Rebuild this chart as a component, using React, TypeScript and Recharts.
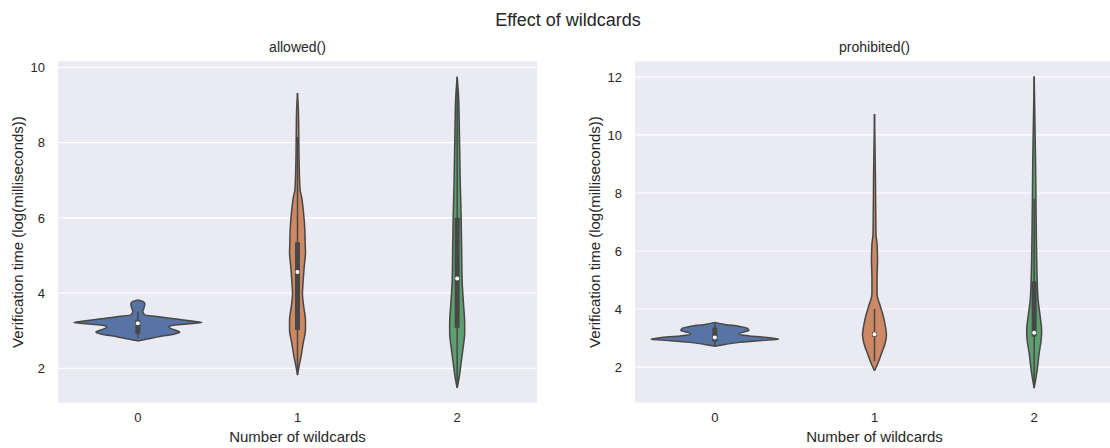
import {
  ComposedChart,
  Area,
  XAxis,
  YAxis,
  CartesianGrid,
  ReferenceLine,
  ReferenceDot,
} from "recharts";

const CATEGORIES = ["0", "1", "2"];
const COLORS = ["#5874a4", "#cc8963", "#5f9e6e"];
const EDGE = "#474747";
const TEXT = "#262626";

// violin outlines: y values and half-widths (in category units)
const ALLOWED_0_Y = [2.73, 2.79, 2.85, 2.91, 2.96, 3.02, 3.1, 3.14, 3.18, 3.22, 3.25, 3.31, 3.38, 3.42, 3.51, 3.6, 3.72, 3.78, 3.82];
const ALLOWED_0_W = [0, 0.069, 0.138, 0.225, 0.263, 0.231, 0.194, 0.213, 0.306, 0.4, 0.35, 0.244, 0.119, 0.044, 0.031, 0.038, 0.044, 0.031, 0];
const ALLOWED_1_Y = [1.82, 2.04, 2.31, 2.68, 3.02, 3.29, 3.64, 4.0, 4.35, 4.7, 5.07, 5.34, 5.68, 6.13, 6.57, 6.75, 7.5, 8.16, 8.8, 9.32];
const ALLOWED_1_W = [0, 0.009, 0.022, 0.036, 0.05, 0.05, 0.039, 0.031, 0.036, 0.042, 0.05, 0.048, 0.046, 0.038, 0.025, 0.016, 0.01, 0.008, 0.006, 0];
const ALLOWED_2_Y = [1.48, 1.77, 2.15, 2.57, 2.94, 3.2, 3.64, 4.35, 5.23, 6.0, 7.0, 8.53, 9.2, 9.75];
const ALLOWED_2_W = [0, 0.013, 0.025, 0.038, 0.047, 0.047, 0.041, 0.031, 0.028, 0.025, 0.019, 0.013, 0.009, 0];

const PROHIBITED_0_Y = [2.72, 2.78, 2.85, 2.91, 2.96, 3.01, 3.07, 3.13, 3.2, 3.26, 3.33, 3.4, 3.47, 3.54];
const PROHIBITED_0_W = [0, 0.063, 0.156, 0.281, 0.4, 0.344, 0.219, 0.15, 0.175, 0.213, 0.206, 0.156, 0.063, 0];
const PROHIBITED_1_Y = [1.87, 2.18, 2.47, 2.81, 3.1, 3.38, 3.73, 4.07, 4.53, 5.1, 5.67, 6.24, 6.59, 8.5, 10.72];
const PROHIBITED_1_W = [0, 0.025, 0.044, 0.066, 0.075, 0.069, 0.056, 0.038, 0.016, 0.016, 0.019, 0.016, 0.009, 0.006, 0];
const PROHIBITED_2_Y = [1.27, 1.9, 2.47, 2.93, 3.27, 3.73, 4.3, 4.98, 5.67, 6.81, 9.0, 12.02];
const PROHIBITED_2_W = [0, 0.019, 0.031, 0.044, 0.047, 0.038, 0.025, 0.019, 0.016, 0.013, 0.009, 0];

// inner box: whiskers, quartiles, medians
const ALLOWED_LO = [2.8, 1.95, 1.55];
const ALLOWED_Q1 = [2.92, 3.02, 3.08];
const ALLOWED_MED = [3.2, 4.56, 4.39];
const ALLOWED_Q3 = [3.29, 5.35, 6.0];
const ALLOWED_HI = [3.51, 8.15, 9.65];

const PROHIBITED_LO = [2.75, 2.2, 1.3];
const PROHIBITED_Q1 = [2.88, 3.05, 3.05];
const PROHIBITED_MED = [3.02, 3.13, 3.18];
const PROHIBITED_Q3 = [3.36, 3.2, 4.95];
const PROHIBITED_HI = [3.5, 4.0, 7.8];

const ALLOWED_TICKS = [2, 4, 6, 8, 10];
const PROHIBITED_TICKS = [2, 4, 6, 8, 10, 12];

type Violin = { y: number[]; w: number[] };
type Stats = { lo: number[]; q1: number[]; med: number[]; q3: number[]; hi: number[] };

function buildRows(violins: Violin[]) {
  const ys = Array.from(new Set(violins.flatMap((v) => v.y))).sort((a, b) => a - b);
  return ys.map((y) => {
    const row: Record<string, any> = { y };
    violins.forEach((v, i) => {
      const k = v.y.indexOf(y);
      row[`v${i}`] = k >= 0 ? [i - v.w[k], i + v.w[k]] : [null, null];
    });
    return row;
  });
}

const allowedRows = buildRows([
  { y: ALLOWED_0_Y, w: ALLOWED_0_W },
  { y: ALLOWED_1_Y, w: ALLOWED_1_W },
  { y: ALLOWED_2_Y, w: ALLOWED_2_W },
]);
const prohibitedRows = buildRows([
  { y: PROHIBITED_0_Y, w: PROHIBITED_0_W },
  { y: PROHIBITED_1_Y, w: PROHIBITED_1_W },
  { y: PROHIBITED_2_Y, w: PROHIBITED_2_W },
]);

function ViolinPanel({
  left,
  title,
  rows,
  domain,
  ticks,
  stats,
}: {
  left: number;
  title: string;
  rows: any[];
  domain: [number, number];
  ticks: number[];
  stats: Stats;
}) {
  return (
    <div style={{ position: "absolute", left, top: 0, width: 560, height: 448 }}>
      <div
        style={{
          position: "absolute",
          left: 58,
          width: 479,
          top: 38,
          textAlign: "center",
          fontSize: 14,
          lineHeight: "18px",
        }}
      >
        {title}
      </div>
      <div
        style={{
          position: "absolute",
          left: 17,
          top: 232,
          transform: "translate(-50%, -50%) rotate(-90deg)",
          whiteSpace: "nowrap",
          fontSize: 15,
        }}
      >
        Verification time (log(milliseconds))
      </div>
      <ComposedChart
        width={560}
        height={448}
        layout="vertical"
        data={rows}
        margin={{ top: 61, right: 23, bottom: 0, left: 0 }}
      >
        <CartesianGrid vertical={false} stroke="#ffffff" strokeWidth={1.2} fill="#eaeaf2" />
        <XAxis
          type="number"
          domain={[-0.5, 2.5]}
          ticks={[0, 1, 2]}
          tickFormatter={(i: number) => CATEGORIES[i]}
          height={45}
          tickLine={false}
          axisLine={false}
          tickSize={0}
          tickMargin={10}
          tick={{ fill: TEXT, fontSize: 13 }}
          label={{ value: "Number of wildcards", position: "insideBottom", offset: 6, fill: TEXT, fontSize: 15 }}
        />
        <YAxis
          type="number"
          dataKey="y"
          domain={domain}
          ticks={ticks}
          reversed
          width={58}
          tickLine={false}
          axisLine={false}
          tickSize={0}
          tickMargin={13}
          tick={{ fill: TEXT, fontSize: 13 }}
        />
        {COLORS.map((c, i) => (
          <Area
            key={`v${i}`}
            dataKey={`v${i}`}
            type="monotone"
            fill={c}
            fillOpacity={1}
            stroke={EDGE}
            strokeWidth={1.5}
            connectNulls
            dot={false}
            activeDot={false}
            isAnimationActive={false}
          />
        ))}
        {CATEGORIES.map((_, i) => (
          <ReferenceLine
            key={`w${i}`}
            segment={[
              { x: i, y: stats.lo[i] },
              { x: i, y: stats.hi[i] },
            ]}
            stroke={EDGE}
            strokeWidth={1.5}
          />
        ))}
        {CATEGORIES.map((_, i) => (
          <ReferenceLine
            key={`b${i}`}
            segment={[
              { x: i, y: stats.q1[i] },
              { x: i, y: stats.q3[i] },
            ]}
            stroke={EDGE}
            strokeWidth={5}
          />
        ))}
        {CATEGORIES.map((_, i) => (
          <ReferenceDot key={`m${i}`} x={i} y={stats.med[i]} r={2} fill="#ffffff" stroke="none" />
        ))}
      </ComposedChart>
    </div>
  );
}

export default function App() {
  return (
    <div
      style={{
        position: "absolute",
        left: 0,
        top: 0,
        width: 1110,
        height: 448,
        overflow: "hidden",
        background: "#ffffff",
        color: TEXT,
        fontFamily: '"Liberation Sans", Arial, sans-serif',
      }}
    >
      <div
        style={{
          position: "absolute",
          left: 0,
          width: 1136,
          top: 8,
          textAlign: "center",
          fontSize: 18,
          lineHeight: "24px",
        }}
      >
        Effect of wildcards
      </div>
      <ViolinPanel
        left={0}
        title="allowed()"
        rows={allowedRows}
        domain={[1.08, 10.17]}
        ticks={ALLOWED_TICKS}
        stats={{ lo: ALLOWED_LO, q1: ALLOWED_Q1, med: ALLOWED_MED, q3: ALLOWED_Q3, hi: ALLOWED_HI }}
      />
      <ViolinPanel
        left={577}
        title="prohibited()"
        rows={prohibitedRows}
        domain={[0.76, 12.55]}
        ticks={PROHIBITED_TICKS}
        stats={{ lo: PROHIBITED_LO, q1: PROHIBITED_Q1, med: PROHIBITED_MED, q3: PROHIBITED_Q3, hi: PROHIBITED_HI }}
      />
    </div>
  );
}
